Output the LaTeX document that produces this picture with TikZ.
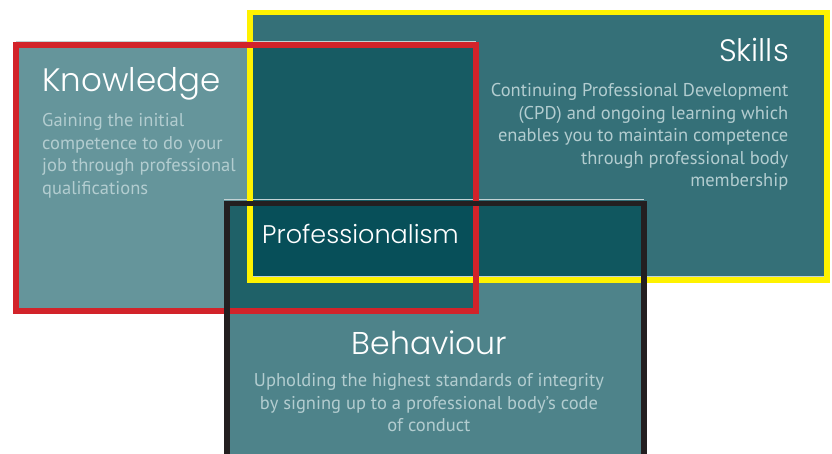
\documentclass[tikz,border=0pt]{standalone}
\usepackage{fontspec}
\setmainfont{PT Sans}
\newfontfamily\titlefont{Poppins Light}
\definecolor{cK}{HTML}{65959B}
\definecolor{cS}{HTML}{357078}
\definecolor{cB}{HTML}{4E838A}
\definecolor{cKS}{HTML}{175B63}
\definecolor{cSB}{HTML}{10575F}
\definecolor{cKB}{HTML}{1F6168}
\definecolor{cKSB}{HTML}{074F59}
\definecolor{bRed}{HTML}{D2232A}
\definecolor{bYellow}{HTML}{FFF200}
\definecolor{bBlack}{HTML}{231F20}
\definecolor{bodytxt}{HTML}{B3CDD0}
\definecolor{edge}{HTML}{C3D2D4}
\tikzset{
  frame/.style={line width=5.6pt},
  title/.style={inner sep=0pt, text=white, font=\titlefont\fontsize{32.5}{36}\selectfont},
  subtitle/.style={inner sep=0pt, text=white, font=\titlefont\fontsize{25.5}{30}\selectfont},
  bodytext/.style={inner sep=0pt, text=bodytxt, font=\fontsize{18.5}{22.6}\selectfont},
  edgeline/.style={draw=edge, line width=0.8pt}
}
\begin{document}
\begin{tikzpicture}[x=1pt,y=-1pt]
\useasboundingbox (0,0) rectangle (832,454);
\clip (0,0) rectangle (832,454);
% base fills
\fill[cK] (16,45) rectangle (476,311);
\fill[cS] (250,12.7) rectangle (827,280);
\fill[cB] (227,203.5) rectangle (644,470);
% overlaps
\fill[cKS] (250,45) rectangle (476,280);
\fill[cSB] (250,203.5) rectangle (644,280);
\fill[cKB] (227,203.5) rectangle (476,311);
\fill[cKSB] (250,203.5) rectangle (476,280);
% faint edge lines
\draw[edgeline] (16,41.2) -- (476,41.2);
\draw[edgeline] (19,308) -- (227,308);
\draw[edgeline] (224,199.6) -- (644,199.6);
\draw[edgeline] (253,276.6) -- (824,276.6);
% frames
\draw[frame, bYellow] (250,12.7) rectangle (827,280);
\draw[frame, bRed] (16,45) rectangle (476,311);
\draw[frame, bBlack] (227,203.5) rectangle (644,470);
% texts
\node[title, anchor=base west] (ktitle) at (42,91.5) {Knowledge};
\node[bodytext, anchor=base west] (kbody) at (42,126.5) {\begin{tabular}[t]{@{}l@{}}Gaining the initial\\competence to do your\\job through professional\\qualifications\end{tabular}};
\node[title, anchor=base east, font=\titlefont\fontsize{31}{36}\selectfont] (stitle) at (789,61.5) {Skills};
\node[bodytext, anchor=base east] (sbody) at (788.5,96.6) {\begin{tabular}[t]{@{}r@{}}Continuing Professional Development\\(CPD) and ongoing learning which\\enables you to maintain competence\\through professional body\\membership\end{tabular}};
\node[subtitle, anchor=base west] (ptitle) at (262,243.3) {Professionalism};
\node[title, anchor=base, font=\titlefont\fontsize{31.5}{36}\selectfont] (btitle) at (429.5,354) {Behaviour};
\node[bodytext, anchor=base] (bbody) at (429,386.7) {\begin{tabular}[t]{@{}c@{}}Upholding the highest standards of integrity\\by signing up to a professional body’s code\\of conduct\end{tabular}};
\end{tikzpicture}
\end{document}
